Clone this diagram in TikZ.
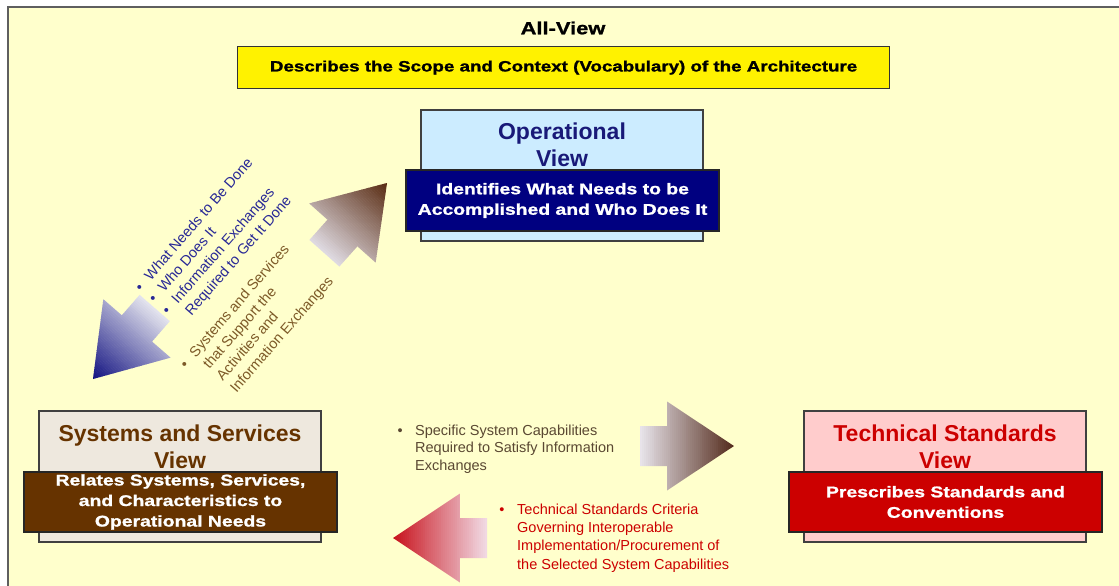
\documentclass[tikz,border=0pt]{standalone}
\usepackage{fontspec}
\setmainfont{Liberation Sans}
\newfontfamily\heavy[FakeStretch=1.25,FakeBold=1.2]{Liberation Sans}
\definecolor{bg}{RGB}{255,255,204}
\definecolor{framec}{RGB}{95,95,95}
\definecolor{opfill}{RGB}{204,236,255}
\definecolor{opdark}{RGB}{0,0,128}
\definecolor{optitle}{RGB}{25,25,120}
\definecolor{ssfill}{RGB}{238,232,222}
\definecolor{ssdark}{RGB}{102,51,0}
\definecolor{tsfill}{RGB}{255,204,204}
\definecolor{tsdark}{RGB}{204,0,0}
\definecolor{bluetxt}{RGB}{40,40,150}
\definecolor{browntxt}{RGB}{125,90,40}
\definecolor{graytxt}{RGB}{90,72,50}
\definecolor{redtxt}{RGB}{204,0,0}
\definecolor{abluedark}{RGB}{20,20,130}
\definecolor{abluelight}{RGB}{232,232,240}
\definecolor{abrowndark}{RGB}{90,45,20}
\definecolor{abrownlight}{RGB}{226,222,230}
\definecolor{arbrowndark}{RGB}{85,45,30}
\definecolor{arbrownlight}{RGB}{236,233,240}
\definecolor{areddark}{RGB}{200,20,30}
\definecolor{aredlight}{RGB}{242,222,232}
\newcommand\fadearrow[4]{%
  \begin{scope}[shift={#1},rotate=#2]
    \begin{scope}
      \clip (0,0) -- (-67,-44.5) -- (-67,-20) -- (-94,-20) -- (-94,20) -- (-67,20) -- (-67,44.5) -- cycle;
      \foreach \i in {0,...,47}{
        \pgfmathtruncatemacro\p{100*\i/47}
        \fill[#4!\p!#3] (-2*\i+0.2,-50) rectangle (-2*\i-2.2,50);
      }
    \end{scope}
  \end{scope}}
\begin{document}
\begin{tikzpicture}[x=1pt,y=-1pt,
  outerbox/.style={draw=black!75, line width=1.2pt, anchor=north west, inner sep=0pt, outer sep=0pt},
  innerbox/.style={draw=black!85, line width=1.2pt, anchor=north west, inner sep=0pt, outer sep=0pt,
     text=white, align=center, font=\heavy\bfseries\fontsize{15.5}{20.5}\selectfont},
  viewtitle/.style={align=center, font=\bfseries\fontsize{23}{27.5}\selectfont},
  bul/.style={anchor=base west, inner sep=0pt, font=\fontsize{14.5}{17}\selectfont}]
\useasboundingbox (0,0) rectangle (1119,586);
\fill[white] (0,0) rectangle (1119,586);
\draw[fill=bg, draw=framec, line width=2pt] (8,7) rectangle (1140,600);

% All-View
\node[font=\heavy\bfseries\fontsize{17.5}{20}\selectfont] (allview) at (563,28) {All-View};
\node[draw=black!80, line width=1.2pt, fill=yellow, minimum width=652pt, minimum height=42pt,
  anchor=north west, inner sep=0pt, font=\heavy\bfseries\fontsize{15}{18}\selectfont] (scopebox) at (237,46)
  {Describes the Scope and Context (Vocabulary) of the Architecture};

% Operational view
\node[outerbox, fill=opfill, minimum width=282pt, minimum height=131pt] (opbox) at (421,110) {};
\node[viewtitle, text=optitle] (optitle) at (562,145) {Operational\\View};
\node[innerbox, fill=opdark, minimum width=313pt, minimum height=61pt] (opin) at (406,170)
  {Identifies What Needs to be\\Accomplished and Who Does It};

% Systems and Services view
\node[outerbox, fill=ssfill, minimum width=282pt, minimum height=131pt] (ssbox) at (39,411) {};
\node[viewtitle, text=ssdark] (sstitle) at (180,447) {Systems and Services\\View};
\node[innerbox, fill=ssdark, minimum width=313pt, minimum height=60pt] (ssin) at (24,472)
  {Relates Systems, Services,\\and Characteristics to\\Operational Needs};

% Technical Standards view
\node[outerbox, fill=tsfill, minimum width=282pt, minimum height=131pt] (tsbox) at (804,411) {};
\node[viewtitle, text=tsdark] (tstitle) at (945,447) {Technical Standards\\View};
\node[innerbox, fill=tsdark, minimum width=313pt, minimum height=60pt] (tsin) at (789,472)
  {Prescribes Standards and\\Conventions};

% arrows
\fadearrow{(93,379)}{229}{abluedark}{abluelight}
\fadearrow{(387,183)}{48.3}{abrowndark}{abrownlight}
\fadearrow{(734,446)}{0}{arbrowndark}{arbrownlight}
\fadearrow{(393,538)}{180}{areddark}{aredlight}

% diagonal texts (blue)
\begin{scope}[shift={(139,287)}, rotate=49]
  \node[bul, text=bluetxt, transform shape] (b1) at (-2.5,5) {\makebox[14.5pt][l]{•}What Needs to Be Done};
  \node[bul, text=bluetxt, transform shape] (b2) at (-2.5,23) {\makebox[14.5pt][l]{•}Who Does It};
  \node[bul, text=bluetxt, transform shape] (b3) at (-2.5,41) {\makebox[14.5pt][l]{•}Information Exchanges};
  \node[bul, text=bluetxt, transform shape] (b4) at (12,59) {Required to Get It Done};
\end{scope}
% diagonal texts (brown)
\begin{scope}[shift={(184,364)}, rotate=49]
  \node[bul, text=browntxt, transform shape] (c1) at (-2.5,5) {\makebox[14.5pt][l]{•}Systems and Services};
  \node[bul, text=browntxt, transform shape] (c2) at (12,23) {that Support the};
  \node[bul, text=browntxt, transform shape] (c3) at (12,41) {Activities and};
  \node[bul, text=browntxt, transform shape] (c4) at (12,59) {Information Exchanges};
\end{scope}

% horizontal bullet texts
\node[bul, text=graytxt] (g1) at (397.5,435) {\makebox[17.5pt][l]{•}Specific System Capabilities};
\node[bul, text=graytxt] (g2) at (415,452.5) {Required to Satisfy Information};
\node[bul, text=graytxt] (g3) at (415,470) {Exchanges};

\node[bul, text=redtxt] (r1) at (499.2,514) {\makebox[17.8pt][l]{•}Technical Standards Criteria};
\node[bul, text=redtxt] (r2) at (517,532) {Governing Interoperable};
\node[bul, text=redtxt] (r3) at (517,550.5) {Implementation/Procurement of};
\node[bul, text=redtxt] (r4) at (517,569) {the Selected System Capabilities};
\end{tikzpicture}
\end{document}
